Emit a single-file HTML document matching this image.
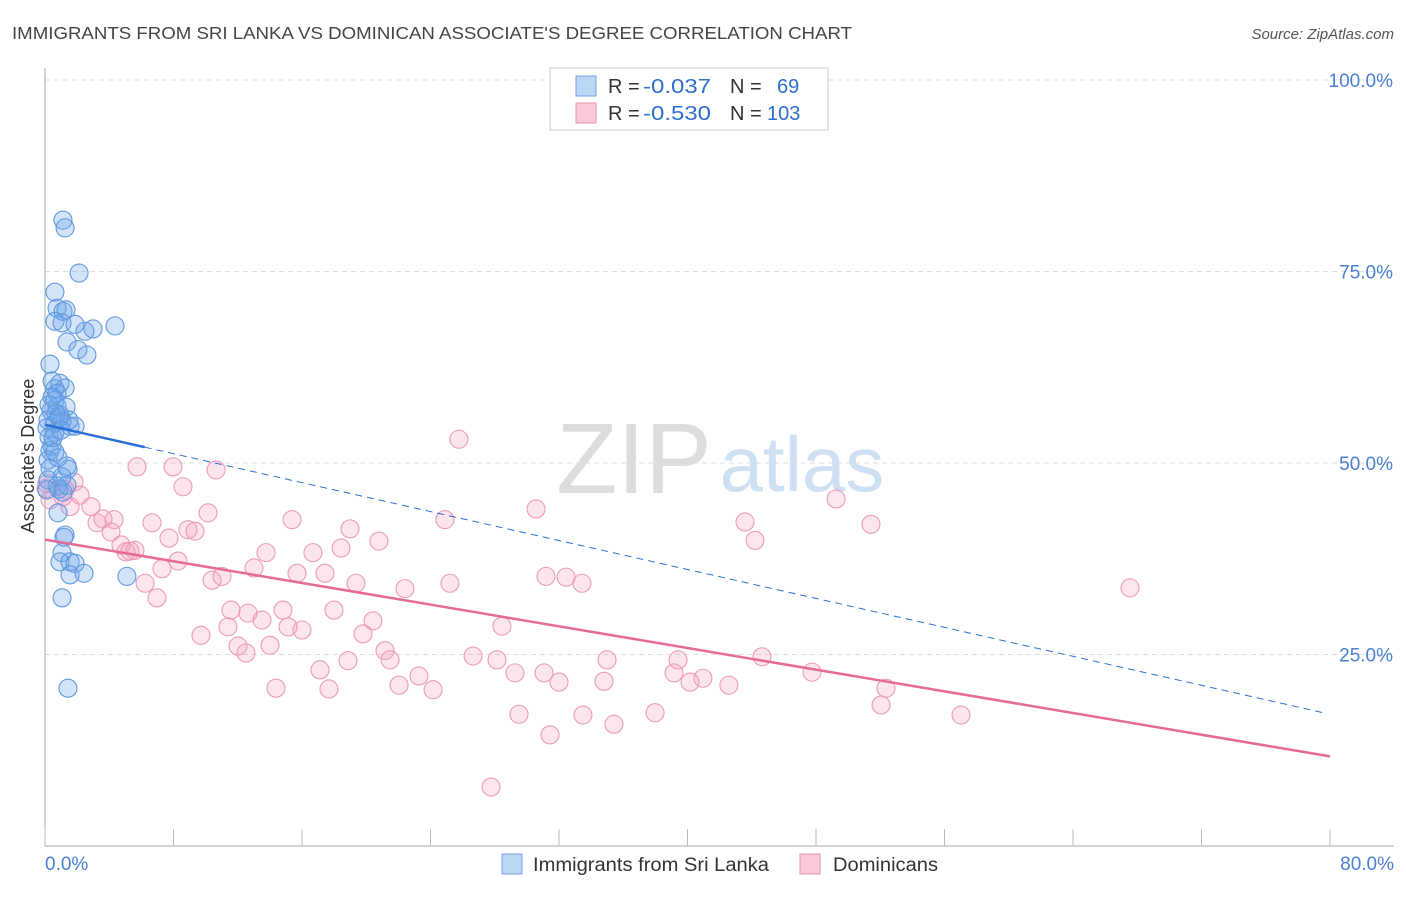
<!DOCTYPE html>
<html><head><meta charset="utf-8"><style>
body{margin:0;background:#fff;font-family:"Liberation Sans",sans-serif}
svg text{font-family:"Liberation Sans",sans-serif}
</style></head><body>
<svg id="c" width="1406" height="892">
<text x="12" y="39" font-size="17.5" fill="#444" textLength="840" lengthAdjust="spacingAndGlyphs">IMMIGRANTS FROM SRI LANKA VS DOMINICAN ASSOCIATE'S DEGREE CORRELATION CHART</text>
<text x="1394" y="39" font-size="15" fill="#555" font-style="italic" text-anchor="end">Source: ZipAtlas.com</text>
<text x="634" y="493" font-size="100" fill="#ddd" font-family="Liberation Serif" text-anchor="middle">ZIP</text>
<text x="802" y="491" font-size="78" fill="#cfe0f3" text-anchor="middle">atlas</text>
<g id="grid"></g><g id="axes"></g><g id="pts"></g><g id="trend"></g>
<text transform="translate(34,456) rotate(-90)" font-size="18" fill="#333" text-anchor="middle">Associate's Degree</text>
<text x="45" y="870" font-size="19" fill="#4a7fd4">0.0%</text>
<text x="1394" y="870" font-size="19" fill="#4a7fd4" text-anchor="end">80.0%</text>
<g>
<rect x="502" y="854" width="20" height="20" fill="#bcd6f5" stroke="#6fa0e0"/>
<text x="533" y="871" font-size="19" fill="#333" textLength="236" lengthAdjust="spacingAndGlyphs">Immigrants from Sri Lanka</text>
<rect x="800" y="854" width="20" height="20" fill="#f9c9d8" stroke="#e894b2"/>
<text x="833" y="871" font-size="19" fill="#333" textLength="105" lengthAdjust="spacingAndGlyphs">Dominicans</text>
</g>
<g>
<rect x="550" y="68" width="278" height="62" fill="#fff" stroke="#ccc"/>
<rect x="576" y="76" width="20" height="20" fill="#bcd6f5" stroke="#6fa0e0"/>
<rect x="576" y="103" width="20" height="20" fill="#f9c9d8" stroke="#e894b2"/>
<text x="608" y="93" font-size="20" fill="#333">R = <tspan x="643" fill="#2f6fd0" textLength="68" lengthAdjust="spacingAndGlyphs">-0.037</tspan><tspan x="730">N =</tspan><tspan x="777" fill="#2f6fd0">69</tspan></text>
<text x="608" y="120" font-size="20" fill="#333">R = <tspan x="643" fill="#2f6fd0" textLength="68" lengthAdjust="spacingAndGlyphs">-0.530</tspan><tspan x="730">N =</tspan><tspan x="767" fill="#2f6fd0">103</tspan></text>
</g>
</svg>
<script>
const yTicks=[25,50,75,100];
const yTickLabels=["25.0%","50.0%","75.0%","100.0%"];
const blueX=[1.12,1.25,2.12,0.62,0.75,1.12,1.31,0.62,1.06,1.87,2.99,2.49,4.36,1.37,2.05,2.61,0.31,0.44,0.62,0.93,1.25,0.75,0.75,0.37,0.19,0.62,0.93,1.06,1.56,1.87,0.62,0.25,0.44,0.31,0.19,0.31,1.37,1.43,0.75,0.87,1.12,1.37,0.81,1.25,1.18,1.06,0.93,1.56,1.87,1.56,2.43,5.10,1.06,1.43,0.19,0.81,0.62,0.87,0.12,0.50,0.62,1.06,0.12,1.31,0.44,0.68,1.00,1.49,0.25];
const blueY=[81.7,80.7,74.8,72.3,70.2,69.8,70.0,68.5,68.3,68.1,67.5,67.2,67.9,65.8,64.8,64.1,62.9,60.7,59.7,60.4,59.8,59.1,57.4,56.8,55.6,55.2,56.3,55.5,54.8,54.8,54.0,53.4,52.2,51.6,50.4,49.3,49.6,49.2,47.0,46.6,46.2,47.1,43.5,40.6,40.3,38.3,37.1,37.1,36.9,35.4,35.6,35.2,32.4,20.6,47.8,50.7,58.2,55.9,54.6,53.3,51.4,48.2,46.5,57.3,58.6,56.5,54.3,55.6,57.6];
const pinkX=[5.73,7.97,10.65,8.59,25.77,49.25,43.58,51.42,30.57,24.90,15.38,18.99,20.79,44.20,67.55,6.66,7.72,5.04,5.60,8.28,10.15,8.90,9.34,13.76,16.68,18.43,7.28,6.23,6.97,10.40,11.02,13.01,15.69,17.43,19.36,22.41,25.21,31.19,32.44,33.43,11.58,12.64,14.82,17.99,20.42,9.71,11.39,13.51,15.13,16.00,19.80,28.45,12.02,12.51,14.01,21.17,21.48,17.12,18.86,23.28,26.65,28.14,29.26,31.07,32.00,34.99,34.80,39.41,39.16,40.16,40.96,44.64,47.75,52.36,42.58,14.38,17.68,22.04,24.16,29.51,33.49,35.42,37.98,31.44,52.05,57.03,27.77,0.06,0.31,1.25,1.81,2.18,1.56,2.86,3.24,3.61,4.30,4.11,4.73,5.29,0.12,1.12];
const pinkY=[49.5,49.5,49.1,46.9,53.1,45.3,42.3,42.0,44.0,42.6,42.6,41.4,39.8,39.9,33.7,42.2,40.2,38.4,38.6,37.2,43.5,41.3,41.1,38.3,38.3,38.9,36.2,34.3,32.4,34.7,35.2,36.3,35.6,35.6,34.3,33.6,34.3,35.2,35.1,34.3,30.8,30.4,30.8,30.8,29.4,27.5,28.6,29.5,28.6,28.2,27.7,28.7,26.1,25.2,26.2,25.5,24.3,23.0,24.2,22.2,24.8,24.3,22.6,22.6,21.4,24.3,21.5,24.3,22.6,21.4,21.9,24.7,22.7,20.6,21.0,20.6,20.5,21.0,20.4,17.2,17.1,15.9,17.4,14.5,18.4,17.1,7.7,46.7,45.2,46.5,47.5,45.8,44.3,44.3,42.2,42.7,42.6,41.0,39.3,38.5,47.3,45.6];
const blueTrend=[55.0,17.2];
const pinkTrend=[40.0,11.7];
const NS="http://www.w3.org/2000/svg";
const sx=v=>45+v*1285/80, sy=v=>846-v*7.66;
function mk(t,a,p){const e=document.createElementNS(NS,t);for(const k in a)e.setAttribute(k,a[k]);p.appendChild(e);return e;}
const grid=document.getElementById('grid'),axes=document.getElementById('axes');
yTicks.forEach((t,i)=>{
 const l=mk('line',{x1:45,x2:1394,y1:sy(t),y2:sy(t),stroke:'#ddd','stroke-dasharray':'5,4'},grid);
 
 
 const tx=mk('text',{x:1393,y:sy(t)+7,'font-size':19,fill:'#4a7fd4','text-anchor':'end'},grid);
 tx.textContent=yTickLabels[i];
 
 
});
const ya=mk('line',{x1:45,x2:45,y1:68,y2:846,stroke:'#aaa'},axes);


const xa=mk('line',{x1:45,x2:1394,y1:846,y2:846,stroke:'#aaa'},axes);


for(let v=0;v<=80;v+=8){const t=mk('line',{x1:sx(v),x2:sx(v),y1:829,y2:846,stroke:'#bbb'},axes);
 
 }
const pts=document.getElementById('pts');
pinkX.forEach((x,i)=>{const c=mk('circle',{cx:sx(x),cy:sy(pinkY[i]),r:9,fill:'rgba(244,160,190,0.28)',stroke:'#ec9ab8','stroke-width':1.1},pts);
 
 });
blueX.forEach((x,i)=>{const c=mk('circle',{cx:sx(x),cy:sy(blueY[i]),r:9,fill:'rgba(110,165,235,0.3)',stroke:'#6099df','stroke-width':1.1},pts);
 
 });
const tr=document.getElementById('trend');
const bAt=x=>blueTrend[0]+(blueTrend[1]-blueTrend[0])*x/80;
const b1=mk('line',{x1:sx(0),y1:sy(bAt(0)),x2:sx(6.2),y2:sy(bAt(6.2)),stroke:'#2a6fd6','stroke-width':2.5},tr);


const b2=mk('line',{x1:sx(6.2),y1:sy(bAt(6.2)),x2:sx(79.7),y2:sy(bAt(79.7)),stroke:'#2a6fd6','stroke-width':1,'stroke-dasharray':'7,5'},tr);


const p1=mk('line',{x1:sx(0),y1:sy(pinkTrend[0]),x2:sx(80),y2:sy(pinkTrend[1]),stroke:'#e56a96','stroke-width':2.5},tr);


</script>
</body></html>
